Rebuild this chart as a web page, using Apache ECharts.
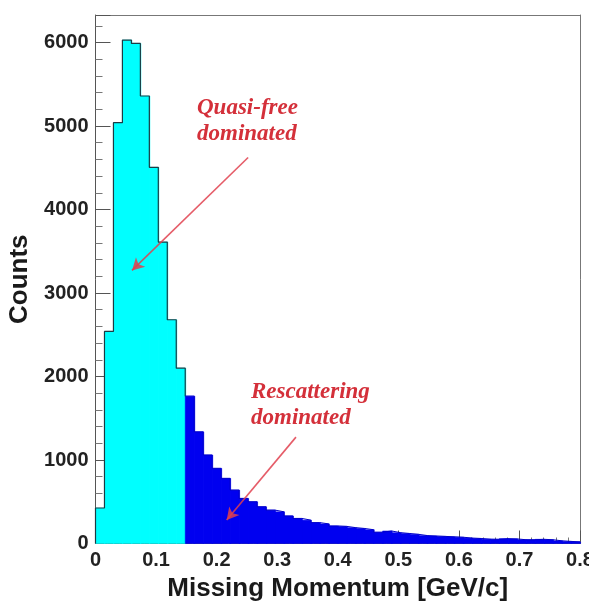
<!DOCTYPE html>
<html>
<head>
<meta charset="utf-8">
<script src="https://cdn.jsdelivr.net/npm/echarts@6/dist/echarts.min.js"></script>
<style>
html,body{margin:0;padding:0;background:#fff;}
#chart{width:589px;height:603px;}
</style>
</head>
<body>
<div id="chart"></div>
<script>
// ---- data ----
const xMin = 0, xMax = 0.8, nBins = 54;
const quasiFreeCounts = [425, 2540, 5040, 6030, 5990, 5360, 4505, 3610, 2680, 2100];
const rescatteringCounts = [1765, 1337, 1060, 900, 780, 640, 540, 500, 440, 400,
  380, 330, 300, 280, 250, 235, 210, 205, 190, 180,
  165, 135, 150, 130, 120, 110, 95, 90, 85, 80,
  75, 65, 60, 52, 50, 58, 55, 45, 45, 50,
  45, 32, 25, 20];
const xTicks = [0, 0.1, 0.2, 0.3, 0.4, 0.5, 0.6, 0.7, 0.8];
const yTicks = [0, 1000, 2000, 3000, 4000, 5000, 6000];
const yMax = 6330;
const quasiArrow = [[0.252, 4623], [0.0603, 3271]];
const rescatArrow = [[0.331, 1274], [0.2166, 281]];
const quasiLabel = 'Quasi-free\ndominated';
const rescatLabel = 'Rescattering\ndominated';

// ---- build ----
const binW = (xMax - xMin) / nBins;
const allCounts = quasiFreeCounts.concat(rescatteringCounts);
const nQ = quasiFreeCounts.length;
const rects = allCounts.map((v, i) => [xMin + i * binW, xMin + (i + 1) * binW, v, i < nQ ? 0 : 1]);
const outlineQ = [[xMin, 0]];
quasiFreeCounts.forEach((v, i) => outlineQ.push([xMin + i * binW, v]));
outlineQ.push([xMin + nQ * binW, rescatteringCounts[0]]);
const outlineR = [];
rescatteringCounts.forEach((v, i) => outlineR.push([xMin + (nQ + i) * binW, v]));
outlineR.push([xMin + nBins * binW, rescatteringCounts[rescatteringCounts.length - 1]]);

const CYAN = '#00ffff', BLUE = '#0000f0';
const labelFont = 'Liberation Sans';

const chart = echarts.init(document.getElementById('chart'));
chart.setOption({
  animation: false,
  backgroundColor: '#ffffff',
  grid: {left: 95.5, right: 9, top: 15, bottom: 59.5, containLabel: false, outerBoundsMode: 'none'},
  xAxis: [{
    type: 'value', min: xMin, max: xMax, interval: 0.1,
    name: 'Missing Momentum [GeV/c]', nameLocation: 'middle', nameGap: 26,
    nameTextStyle: {fontFamily: labelFont, fontWeight: 'bold', fontSize: 26, color: '#1a1a1a'},
    axisLine: {show: true, lineStyle: {color: '#555', width: 1}},
    axisTick: {show: true, inside: true, length: 13, lineStyle: {color: '#555'}},
    minorTick: {show: true, splitNumber: 5, length: 6, lineStyle: {color: '#777'}},
    axisLabel: {margin: 7, fontFamily: labelFont, fontWeight: 'bold', fontSize: 20, color: '#222',
      formatter: v => { const t = xTicks.find(a => Math.abs(a - v) < 1e-6); return t === undefined ? '' : String(t); }},
    splitLine: {show: false}
  }, {
    type: 'value', min: xMin, max: xMax, position: 'top',
    axisLine: {show: true, onZero: false, lineStyle: {color: '#777'}},
    axisTick: {show: false}, axisLabel: {show: false}, splitLine: {show: false}
  }],
  yAxis: [{
    type: 'value', min: 0, max: yMax, interval: 1000,
    name: 'Counts', nameLocation: 'middle', nameGap: 51,
    nameTextStyle: {fontFamily: labelFont, fontWeight: 'bold', fontSize: 26, color: '#1a1a1a'},
    axisLine: {show: true, lineStyle: {color: '#555', width: 1}},
    axisTick: {show: true, inside: true, length: 15, lineStyle: {color: '#555'}},
    minorTick: {show: true, splitNumber: 5, length: 7, lineStyle: {color: '#777'}},
    axisLabel: {margin: 7, fontFamily: labelFont, fontWeight: 'bold', fontSize: 20, color: '#222', showMaxLabel: false,
      formatter: v => yTicks.indexOf(v) >= 0 ? String(v) : ''},
    splitLine: {show: false}
  }, {
    type: 'value', min: 0, max: yMax, position: 'right',
    axisLine: {show: true, onZero: false, lineStyle: {color: '#777'}},
    axisTick: {show: false}, axisLabel: {show: false}, splitLine: {show: false}
  }],
  series: [{
    type: 'custom',
    data: rects,
    encode: {x: [0, 1], y: 2},
    z: 2,
    renderItem: function (params, api) {
      const p0 = api.coord([api.value(0), 0]);
      const p1 = api.coord([api.value(1), api.value(2)]);
      const c = api.value(3) === 0 ? CYAN : BLUE;
      return {
        type: 'rect',
        shape: {x: p0[0], y: p1[1], width: p1[0] - p0[0] + 0.6, height: p0[1] - p1[1]},
        style: {fill: c, stroke: c, lineWidth: 0.5}
      };
    }
  }, {
    type: 'line',
    data: outlineQ,
    step: 'end',
    showSymbol: false,
    z: 3,
    lineStyle: {color: '#1c3c44', width: 1.2}
  }, {
    type: 'line',
    data: outlineR,
    step: 'end',
    showSymbol: false,
    z: 3,
    lineStyle: {color: '#0000c8', width: 1},
    markLine: {
      silent: true,
      symbol: ['none', 'arrow'],
      symbolSize: [10, 12],
      label: {show: false},
      lineStyle: {color: '#e0404e', width: 1.6, type: 'solid', opacity: 0.85},
      data: [
        [{coord: quasiArrow[0]}, {coord: quasiArrow[1]}],
        [{coord: rescatArrow[0]}, {coord: rescatArrow[1]}]
      ]
    }
  }],
  graphic: [{
    type: 'text', left: 197, top: 95, z: 10,
    style: {text: quasiLabel, font: 'italic bold 23px "Liberation Serif"', fill: '#d4303a', lineHeight: 26}
  }, {
    type: 'text', left: 251, top: 379, z: 10,
    style: {text: rescatLabel, font: 'italic bold 23px "Liberation Serif"', fill: '#d4303a', lineHeight: 26}
  }]
});
</script>
</body>
</html>
